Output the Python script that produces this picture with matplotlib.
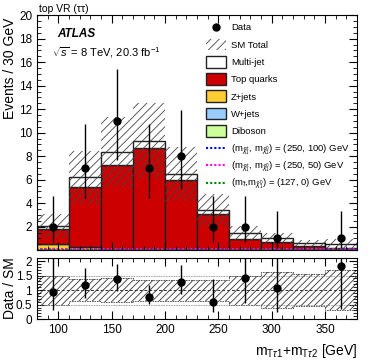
import numpy as np
import matplotlib
matplotlib.use("Agg")
import matplotlib.pyplot as plt
from matplotlib.patches import Rectangle
from matplotlib.ticker import MultipleLocator, FixedLocator

plt.rcParams["font.family"] = ["Liberation Sans", "DejaVu Sans"]
plt.rcParams["hatch.linewidth"] = 0.6
plt.rcParams["mathtext.fontset"] = "custom"
plt.rcParams["mathtext.rm"] = "Liberation Sans"
plt.rcParams["mathtext.it"] = "Liberation Sans:italic"

edges = np.arange(80, 381, 30)
centers = edges[:-1] + 15

diboson = [0.02, 0.01, 0.01, 0.0, 0.0, 0.0, 0.0, 0.0, 0.0, 0.0]
wjets = [0.02, 0.01, 0.0, 0.0, 0.0, 0.0, 0.0, 0.0, 0.0, 0.0]
zjets = [0.50, 0.28, 0.03, 0.02, 0.02, 0.01, 0.0, 0.0, 0.0, 0.0]
top = [1.25, 5.11, 7.22, 8.66, 5.96, 3.05, 0.93, 0.73, 0.36, 0.22]
multijet = [0.28, 0.80, 1.08, 0.65, 0.49, 0.37, 0.52, 0.29, 0.24, 0.32]
sm_unc = [1.00, 2.27, 2.96, 3.17, 2.30, 1.36, 0.62, 0.45, 0.25, 0.40]

sig_250_100 = [0.08, 0.08, 0.08, 0.08, 0.08, 0.08, 0.08, 0.08, 0.08, 0.08]
sig_250_50 = [0.06, 0.06, 0.06, 0.06, 0.06, 0.06, 0.06, 0.06, 0.06, 0.06]
sig_127_0 = [0.05, 0.05, 0.05, 0.05, 0.05, 0.05, 0.05, 0.05, 0.05, 0.05]

data = [2, 7, 11, 7, 8, 2, 2, 1, 0, 1]
data_lo = [1.29, 2.58, 3.29, 2.58, 2.76, 1.29, 1.29, 0.83, 0, 0.83]
data_hi = [2.64, 3.77, 4.42, 3.77, 3.96, 2.64, 2.64, 2.30, 0, 2.30]

ratio = [0.95, 1.16, 1.38, 0.77, 1.28, 0.59, 1.41, 1.07, np.nan, 1.83]
ratio_lo = [0.65, 0.43, 0.42, 0.26, 0.43, 0.34, 0.87, 0.84, np.nan, 1.49]
ratio_hi = [2.0, 0.59, 0.52, 0.42, 0.58, 0.79, 2.0, 2.0, np.nan, 2.0]
ratio_band = [0.50, 0.39, 0.40, 0.36, 0.36, 0.36, 0.50, 0.62, 0.56, 0.70]

legend_labels = [
    "Data", "SM Total", "Multi-jet", "Top quarks", "Z+jets", "W+jets", "Diboson",
    r"(m$_{\tilde{\chi}^{\pm}_{1}}$, m$_{\tilde{\chi}^{0}_{1}}$) = (250, 100) GeV",
    r"(m$_{\tilde{\chi}^{\pm}_{1}}$, m$_{\tilde{\chi}^{0}_{1}}$) = (250, 50) GeV",
    r"(m$_{\tilde{\tau}}$,m$_{\tilde{\chi}^{0}_{1}}$) = (127, 0) GeV",
]

fig = plt.figure(figsize=(3.74, 3.61), dpi=100)
ax = fig.add_axes([0.099, 0.307, 0.856, 0.651])
rax = fig.add_axes([0.099, 0.116, 0.856, 0.169])

layers = [
    (diboson, "#ccff99"),
    (wjets, "#99ccff"),
    (zjets, "#ffcc33"),
    (top, "#cc0000"),
    (multijet, "white"),
]
bottom = np.zeros(len(centers))
for vals, col in layers:
    vals = np.array(vals)
    if vals.sum() > 0:
        ax.bar(centers, vals, width=30, bottom=bottom, color=col,
               edgecolor="#222222", linewidth=1.0)
    bottom = bottom + vals
sm = bottom

ax.bar(centers, 2 * np.array(sm_unc), width=30, bottom=sm - np.array(sm_unc),
       facecolor="none", edgecolor="#444444", hatch="////", linewidth=0)

sig_colors = ["#0000ff", "#ff00ff", "#008800"]
for sig, col in zip([sig_250_100, sig_250_50, sig_127_0], sig_colors):
    ax.stairs(sig, edges, color=col, linestyle=(0, (1, 1)), linewidth=1.5)

mask = np.array(data) > 0
ax.errorbar(centers[mask], np.array(data)[mask],
            yerr=[np.array(data_lo)[mask], np.array(data_hi)[mask]],
            fmt="o", color="black", markersize=5, elinewidth=1, capsize=0)

ax.set_xlim(80, 380)
ax.set_ylim(0, 20)
ax.set_xticklabels([])
ax.yaxis.set_major_locator(FixedLocator(np.arange(0, 21, 2)))
ax.set_yticklabels([""] + [str(v) for v in range(2, 21, 2)])
ax.yaxis.set_minor_locator(MultipleLocator(0.5))
ax.xaxis.set_major_locator(MultipleLocator(50))
ax.xaxis.set_minor_locator(MultipleLocator(10))
for a in (ax, rax):
    a.tick_params(which="both", direction="in", top=True, right=True, labelsize=8.5)
    a.tick_params(which="major", length=6)
    a.tick_params(which="minor", length=3)
ax.set_ylabel("Events / 30 GeV", fontsize=10, loc="top")
ax.yaxis.set_label_coords(-0.062, 0.99)

ax.text(0.005, 1.012, "top VR (ττ)", transform=ax.transAxes, fontsize=7.5,
        ha="left", va="baseline")
ax.text(0.063, 0.92, "ATLAS", transform=ax.transAxes, fontsize=8.5,
        fontweight="bold", fontstyle="italic", ha="left", va="center")
ax.text(0.047, 0.84, r"$\sqrt{s}$ = 8 TeV, 20.3 fb$^{-1}$", transform=ax.transAxes,
        fontsize=8, ha="left", va="center")

# legend drawn by hand, one row per entry
x0, x1, xt = 0.528, 0.591, 0.606
box_h = 0.05
for i, lab in enumerate(legend_labels):
    y = 0.949 - i * 0.0735
    if i == 0:
        ax.plot([(x0 + x1) / 2], [y], "o", color="black", markersize=5,
                transform=ax.transAxes, clip_on=False)
    elif i == 1:
        ax.add_patch(Rectangle((x0, y - box_h / 2), x1 - x0, box_h, transform=ax.transAxes,
                               facecolor="none", edgecolor="#444444", hatch="////",
                               linewidth=0))
    elif i <= 6:
        col = [c for _, c in layers][::-1][i - 2]
        ax.add_patch(Rectangle((x0, y - box_h / 2), x1 - x0, box_h, transform=ax.transAxes,
                               facecolor=col, edgecolor="#222222", linewidth=1.0))
    else:
        ax.plot([x0, x1], [y, y], color=sig_colors[i - 7], linestyle=(0, (1, 1)),
                linewidth=1.5, transform=ax.transAxes)
    ax.text(xt, y - 0.014, lab, transform=ax.transAxes, fontsize=6.8,
            ha="left", va="baseline")

# ratio panel
band = np.array(ratio_band)
rax.bar(centers, 2 * band, width=30, bottom=1 - band, facecolor="none",
        edgecolor="#333333", hatch="/////", linewidth=0)
rax.stairs(1 + band, edges, color="#444444", linestyle=(0, (2, 1)), linewidth=0.6)
rax.stairs(1 - band, edges, color="#444444", linestyle=(0, (2, 1)), linewidth=0.6)
rax.axhline(1.0, color="#333333", linestyle=(0, (3, 2)), linewidth=0.7)
rax.axhline(0.5, color="#777777", linestyle=(0, (1, 1)), linewidth=0.6)
rax.axhline(1.5, color="#777777", linestyle=(0, (1, 1)), linewidth=0.6)
rmask = ~np.isnan(np.array(ratio))
rax.errorbar(centers[rmask], np.array(ratio)[rmask],
             yerr=[np.array(ratio_lo)[rmask], np.array(ratio_hi)[rmask]],
             fmt="o", color="black", markersize=5, elinewidth=1, capsize=0)
rax.set_xlim(80, 380)
rax.set_ylim(0, 2.1)
rax.yaxis.set_minor_locator(MultipleLocator(0.1))
rax.xaxis.set_major_locator(MultipleLocator(50))
rax.xaxis.set_minor_locator(MultipleLocator(10))
rax.set_yticks([0, 0.5, 1, 1.5, 2])
rax.set_yticklabels(["0", "0.5", "1", "1.5", "2"])
rax.set_ylabel("Data / SM", fontsize=10)
rax.yaxis.set_label_coords(-0.064, 0.5)
rax.set_xlabel(r"m$_{\mathrm{T}\tau1}$+m$_{\mathrm{T}\tau2}$ [GeV]", fontsize=10, loc="right")

fig.savefig("out.png", dpi=100)
